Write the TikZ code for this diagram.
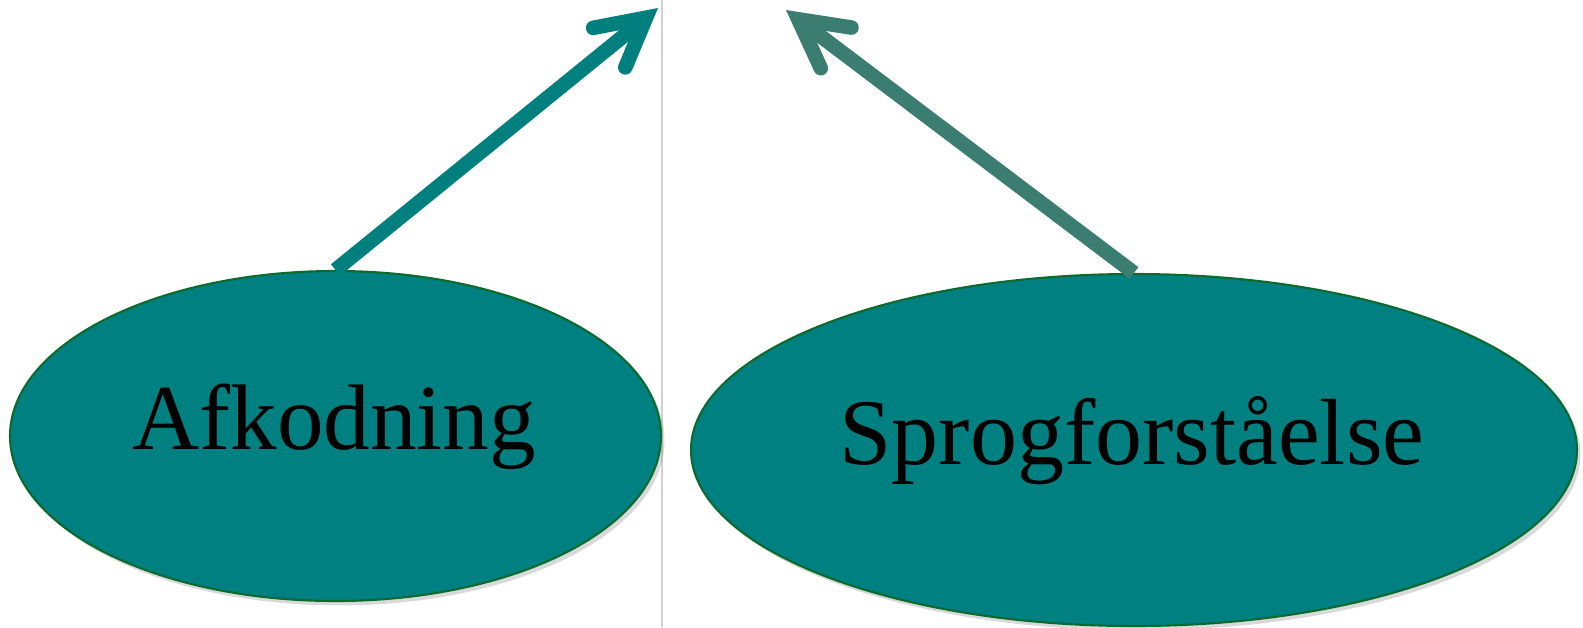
\documentclass[tikz,border=0pt]{standalone}
\usepackage{fontspec}
\setmainfont{Liberation Serif}
\usetikzlibrary{shapes.geometric,arrows.meta,shadows}
\definecolor{tealfill}{HTML}{008080}
\definecolor{rimgreen}{HTML}{0B6A2E}
\definecolor{arrowteal}{HTML}{007F7F}
\definecolor{arrowgrey}{HTML}{3C7D72}
\tikzset{
  blob/.style={draw=rimgreen, line width=1.2pt, fill=tealfill, ellipse, inner sep=0pt,
    drop shadow={shadow xshift=2pt, shadow yshift=-2.5pt, opacity=0.3}},
  pointer/.style={line width=8.3pt, line cap=butt,
    -{Straight Barb[length=27pt, width=29pt, line cap=round, line join=miter]}},
}
\begin{document}
\begin{tikzpicture}[x=0.02cm, y=-0.02cm]
\useasboundingbox (0,0) rectangle (1583,627);
\draw[line width=1.2pt, black!18] (662,0) -- (662,627);

\node[blob, minimum width=651*0.02cm, minimum height=330*0.02cm] (afk) at (335.5,436) {};
\node[blob, minimum width=886*0.02cm, minimum height=352*0.02cm] (sprog) at (1134,450) {};

\node[font=\fontsize{53}{60}\selectfont, anchor=base] (afklabel) at (334,449) {Afkodning};
\node[font=\fontsize{53.5}{60}\selectfont, anchor=base] (sproglabel) at (1132,464) {Sprogforståelse};

\coordinate (tipA) at (658,8);
\coordinate (tipB) at (786,10);

\draw[pointer, draw=arrowteal] (afk.north) -- (tipA);
\draw[pointer, draw=arrowgrey] (sprog.north) -- (tipB);
\end{tikzpicture}
\end{document}
